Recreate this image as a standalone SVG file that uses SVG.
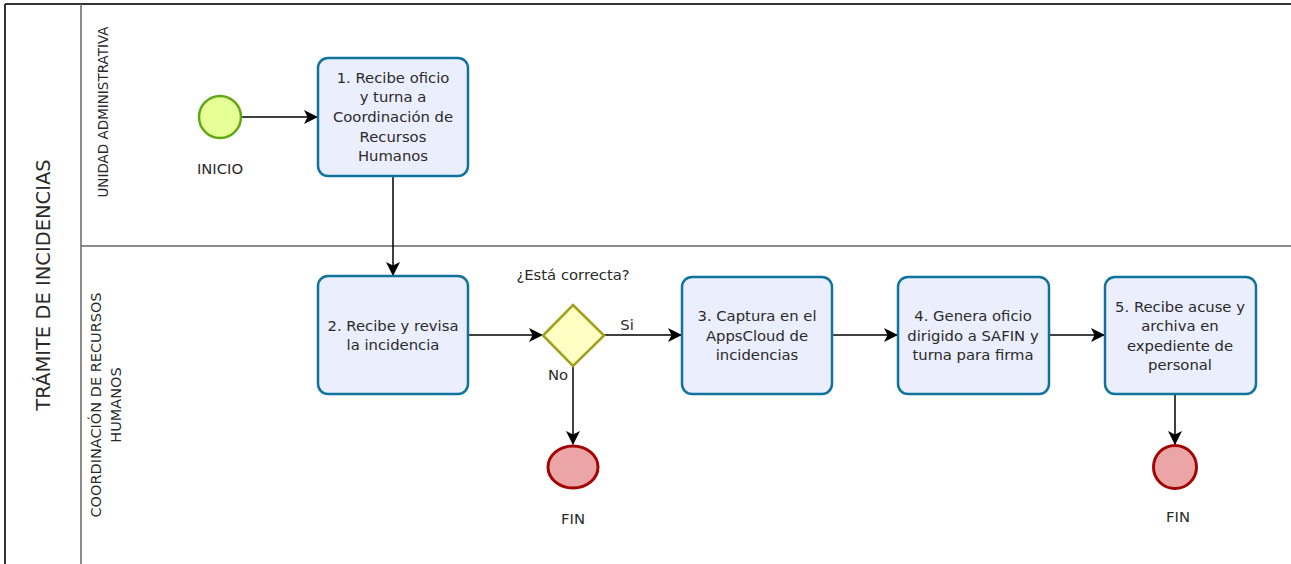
<svg xmlns="http://www.w3.org/2000/svg" width="1291" height="564" viewBox="0 0 1291 564">
<defs>
<marker id="arr" viewBox="0 0 14 14" refX="13" refY="7" markerWidth="14" markerHeight="14" markerUnits="userSpaceOnUse" orient="auto">
<path d="M0,0 L14,7 L0,14 L3.5,7 Z" fill="#000"/>
</marker>
</defs>
<style>
text{font-family:"DejaVu Sans","Open Sans",sans-serif;fill:#2a2a2a;}
.t{font-size:14.8px;text-anchor:middle;}
.lane{font-size:13.5px;text-anchor:middle;}
.lane2{font-size:14.5px;text-anchor:middle;}
.task{fill:#eaeefd;stroke:#10739e;stroke-width:2.5;}
.end{fill:#eca5a6;stroke:#a20505;stroke-width:3;}
.conn{fill:none;stroke:#000;stroke-width:1.5;}
</style>
<rect x="0" y="0" width="1291" height="564" fill="#fff"/>
<g id="pool">
<line x1="5" y1="4" x2="1291" y2="4" stroke="#333" stroke-width="2"/>
<line x1="5" y1="4" x2="5" y2="564" stroke="#333" stroke-width="2"/>
<line x1="81" y1="4" x2="81" y2="564" stroke="#666" stroke-width="1.5"/>
<line x1="81" y1="246" x2="1291" y2="246" stroke="#666" stroke-width="1.5"/>
<text transform="translate(50,285) rotate(-90)" style="font-size:19.5px;text-anchor:middle">TRÁMITE DE INCIDENCIAS</text>
<text class="lane" transform="translate(108,112) rotate(-90)">UNIDAD ADMINISTRATIVA</text>
<text class="lane2" transform="translate(101,405) rotate(-90)">COORDINACIÓN DE RECURSOS</text>
<text class="lane2" transform="translate(121,405) rotate(-90)">HUMANOS</text>
</g>
<g id="connectors">
<line class="conn" x1="242" y1="117" x2="317" y2="117" marker-end="url(#arr)"/>
<line class="conn" x1="393" y1="176" x2="393" y2="275" marker-end="url(#arr)"/>
<line class="conn" x1="468" y1="335" x2="542" y2="335" marker-end="url(#arr)"/>
<line class="conn" x1="604" y1="335" x2="681" y2="335" marker-end="url(#arr)"/>
<line class="conn" x1="832" y1="335" x2="897" y2="335" marker-end="url(#arr)"/>
<line class="conn" x1="1049" y1="335" x2="1104" y2="335" marker-end="url(#arr)"/>
<line class="conn" x1="573" y1="366" x2="573" y2="444" marker-end="url(#arr)"/>
<line class="conn" x1="1175" y1="394" x2="1175" y2="444" marker-end="url(#arr)"/>
<text class="t" x="627" y="330">Si</text>
<text class="t" x="558" y="380">No</text>
</g>
<g id="start">
<circle cx="220" cy="117" r="21" fill="#e6ff97" stroke="#62a716" stroke-width="2.5"/>
<text class="t" x="220" y="174">INICIO</text>
</g>
<g id="task1">
<rect class="task" x="318" y="58" width="150" height="118" rx="10"/>
<text class="t" x="393" y="83">1. Recibe oficio</text>
<text class="t" x="393" y="102">y turna a</text>
<text class="t" x="393" y="122">Coordinación de</text>
<text class="t" x="393" y="142">Recursos</text>
<text class="t" x="393" y="161">Humanos</text>
</g>
<g id="task2">
<rect class="task" x="318" y="276" width="150" height="118" rx="10"/>
<text class="t" x="393" y="331">2. Recibe y revisa</text>
<text class="t" x="393" y="350">la incidencia</text>
</g>
<g id="gateway">
<polygon points="573,305 604,335.5 573,366 543,335.5" fill="#ffffc4" stroke="#a0a01c" stroke-width="2.5"/>
<text class="t" x="573" y="280">¿Está correcta?</text>
</g>
<g id="task3">
<rect class="task" x="682" y="277" width="150" height="117" rx="10"/>
<text class="t" x="757" y="321">3. Captura en el</text>
<text class="t" x="757" y="341">AppsCloud de</text>
<text class="t" x="757" y="360">incidencias</text>
</g>
<g id="task4">
<rect class="task" x="898" y="277" width="151" height="117" rx="10"/>
<text class="t" x="973" y="321">4. Genera oficio</text>
<text class="t" x="973" y="341">dirigido a SAFIN y</text>
<text class="t" x="973" y="360">turna para firma</text>
</g>
<g id="task5">
<rect class="task" x="1105" y="277" width="151" height="117" rx="10"/>
<text class="t" x="1180" y="312">5. Recibe acuse y</text>
<text class="t" x="1180" y="331">archiva en</text>
<text class="t" x="1180" y="351">expediente de</text>
<text class="t" x="1180" y="370">personal</text>
</g>
<g id="end1">
<ellipse class="end" cx="573" cy="467" rx="25" ry="21"/>
<text class="t" x="573" y="524">FIN</text>
</g>
<g id="end2">
<circle class="end" cx="1175" cy="467" r="21.5"/>
<text class="t" x="1178" y="522">FIN</text>
</g>
</svg>
